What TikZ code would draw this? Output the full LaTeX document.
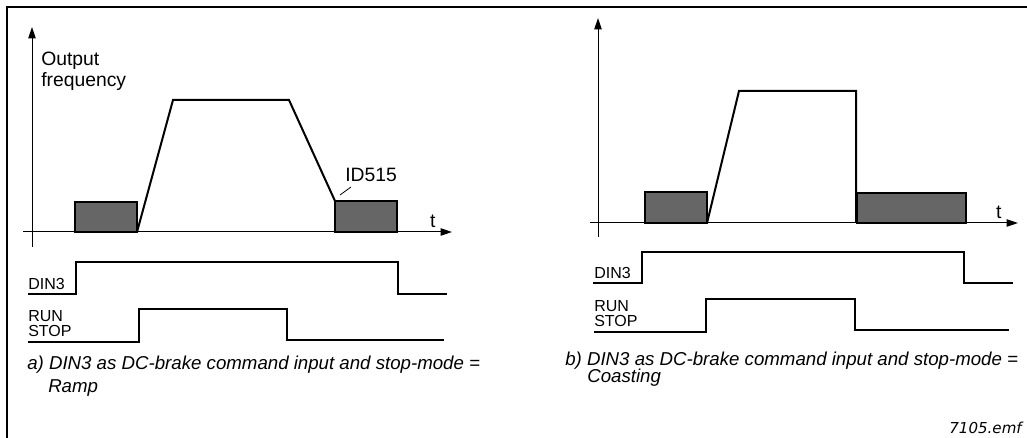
\documentclass[tikz,border=0pt]{standalone}
\usepackage{fontspec}
\setmainfont{Liberation Sans}
\newfontfamily\emffont{DejaVu Sans}
\usetikzlibrary{arrows.meta}
\definecolor{brakegray}{RGB}{102,102,102}

\begin{document}
\begin{tikzpicture}[x=0.75pt,y=-0.75pt,
    axis/.style={-{Triangle[length=8.5pt,width=5.5pt]},line width=0.75pt},
    freq/.style={line width=1.5pt,line join=miter},
    signal/.style={line width=1.3pt},
    brake/.style={fill=brakegray,draw=black,line width=1.5pt},
    txt/.style={inner sep=0pt,font=\fontsize{14.5}{16}\selectfont},
    sigtxt/.style={inner sep=0pt,font=\fontsize{12}{10.6}\selectfont,align=left},
    captxt/.style={inner sep=0pt,font=\fontsize{14}{16}\selectfont\itshape}]
    \useasboundingbox (0,0) rectangle (1027,438);
    \draw[line width=1.5pt] (7,438) -- (7,7) -- (1027,7);
    % a) stop-mode = ramp
    \draw[axis] (32,247) -- (32,27);
    \draw[axis] (23,232) -- (452,232) node[txt,anchor=base,pos=0.955,yshift=3.5pt] (ta) {t};
    \node[txt,anchor=base west] (outa) at (41,66) {Output};
    \node[txt,anchor=base west] (freqa) at (41,87) {frequency};
    \draw[brake] (75,202) rectangle (137,232);
    \draw[brake] (335,201) rectangle (397,232);
    \draw[freq] (137,232) -- (173,100) -- (289,100) -- (335,201);
    \node[txt,anchor=base west] (ida) at (345,182) {ID515};
    \draw[line width=0.6pt] (340,195) -- (351,187);
    \draw[signal] (28,294) -- (76,294) -- (76,262) -- (398,262) -- (398,294) -- (447,294);
    \node[sigtxt,anchor=base west] (dina) at (28,289) {DIN3};
    \draw[signal] (28,342) -- (139,342) -- (139,309) -- (287,309) -- (287,340) -- (444,340);
    \node[sigtxt,anchor=base west] (runa) at (28,336) {RUN\\STOP};
    \node[captxt,anchor=base west] (capa) at (27,369) {a) DIN3 as DC-brake command input and stop-mode =};
    \node[captxt,anchor=base west] (capb) at (48,392) {Ramp};
    % b) stop-mode = coasting
    \draw[axis] (598,237) -- (598,18);
    \draw[axis] (590,223) -- (1018,223) node[txt,anchor=base,pos=0.955,yshift=3.5pt] (tb) {t};
    \draw[brake] (645,192) rectangle (707,223);
    \draw[brake] (857,193) rectangle (966,223);
    \draw[freq] (707,223) -- (739,91) -- (856,91) -- (856,223);
    \draw[signal] (593,283) -- (642,283) -- (642,252) -- (964,252) -- (964,283) -- (1013,283);
    \node[sigtxt,anchor=base west] (dinb) at (594,278) {DIN3};
    \draw[signal] (594,332) -- (706,332) -- (706,299) -- (855,299) -- (855,330) -- (1009,330);
    \node[sigtxt,anchor=base west] (runb) at (594,326) {RUN\\STOP};
    \node[captxt,anchor=base west] (capc) at (565,365) {b) DIN3 as DC-brake command input and stop-mode =};
    \node[captxt,anchor=base west] (capd) at (587,382) {Coasting};
    \node[inner sep=0pt,anchor=base east,font=\emffont\fontsize{11.3}{12}\selectfont\itshape] (emf) at (1022,433) {7105.emf};
\end{tikzpicture}
\end{document}
